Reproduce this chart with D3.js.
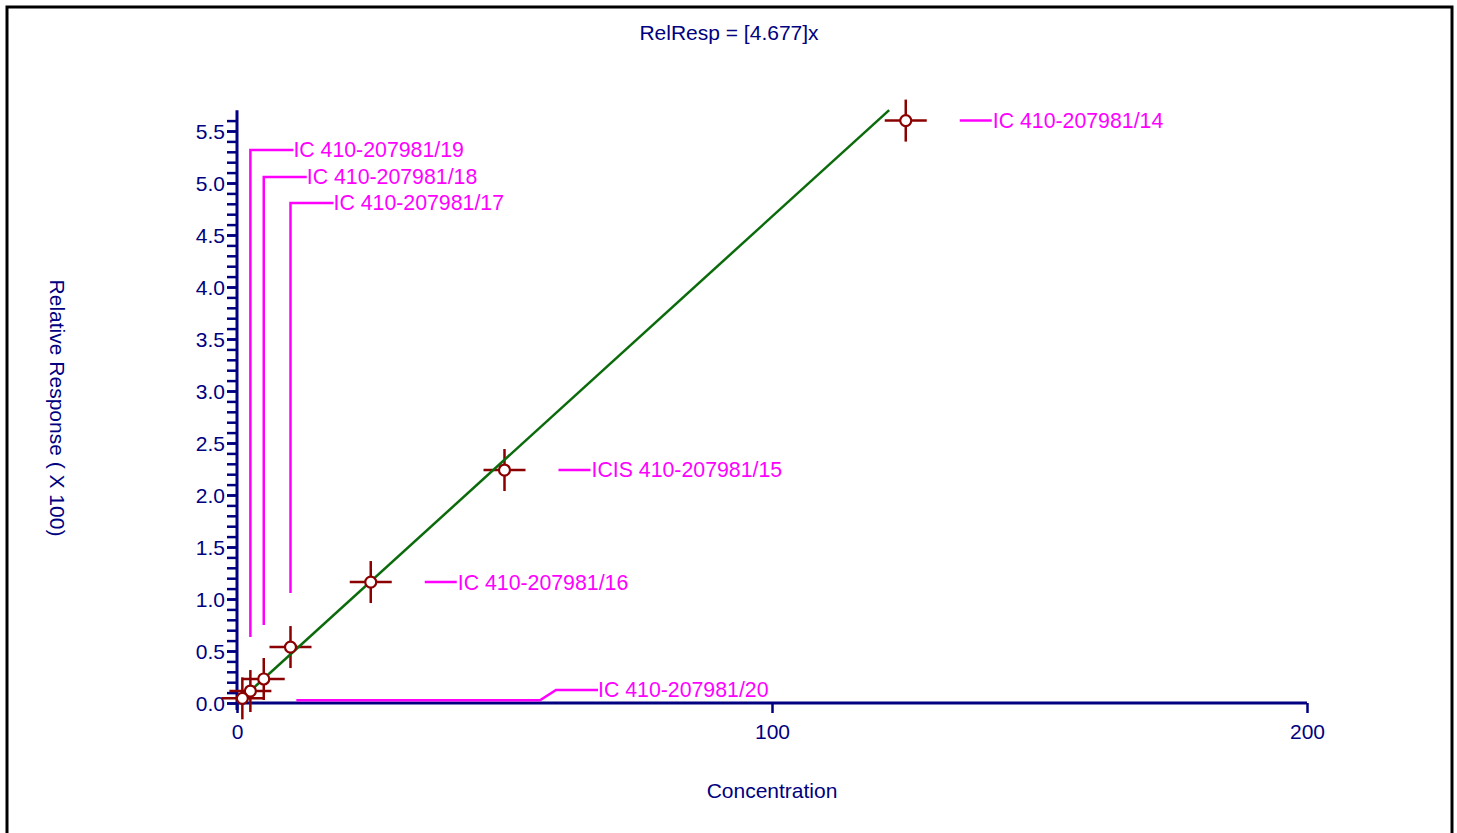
<!DOCTYPE html>
<html>
<head>
<meta charset="utf-8">
<script src="https://cdn.jsdelivr.net/npm/d3@7"></script>
<style>
  body { margin: 0; background: #fff; }
  svg { display: block; font-family: "Liberation Sans", Arial, sans-serif; }
</style>
</head>
<body>
<div id="chart"></div>
<script>
// calibration points
var sampleNames = ["IC 410-207981/14", "ICIS 410-207981/15", "IC 410-207981/16",
                   "IC 410-207981/17", "IC 410-207981/18", "IC 410-207981/19", "IC 410-207981/20"];
var concentration = [125, 50, 25, 10, 5, 2.5, 1];
var relResponse = [5.6, 2.24, 1.163, 0.538, 0.231, 0.115, 0.045];   // x 100

var slope = 0.04677;          // RelResp = [4.677]x  (axis in x100)
var fitRange = [2.5, 121.9];

var xTicks = [0, 100, 200];
var yTicks = [0, 0.5, 1, 1.5, 2, 2.5, 3, 3.5, 4, 4.5, 5, 5.5];

var W = 1457, H = 833;
var navy = "#000080", red = "#8b0000", green = "#0b6b0b", magenta = "#ff00ff";

// label placement (pixel layout, not data)
var labelLayout = [
  { type: "right" }, { type: "right" }, { type: "right" },
  { type: "up", ty: 203 }, { type: "up", ty: 177 }, { type: "up", ty: 150 },
  { type: "bend", bx: 540, ty: 690, tx: 598 }
];

var svg = d3.select("#chart").append("svg")
    .attr("width", W)
    .attr("height", H);

// frame
svg.append("rect")
    .attr("x", 7).attr("y", 7)
    .attr("width", 1445).attr("height", 900)
    .attr("fill", "none")
    .attr("stroke", "#000")
    .attr("stroke-width", 3);

var x = d3.scaleLinear().domain([0, 200]).range([237, 1307]);
var y = d3.scaleLinear().domain([0, 5.7]).range([703, 703 - 5.7 * 104]);

//////////////// axes ////////////////
var yAxisMinor = svg.append("g")
    .attr("transform", "translate(" + x(0) + ",0)")
    .call(d3.axisLeft(y).tickValues(d3.range(0, 57).map(d => d / 10)).tickSize(10).tickSizeOuter(0).tickFormat(""));

var yAxis = svg.append("g")
    .attr("transform", "translate(" + x(0) + ",0)")
    .call(d3.axisLeft(y).tickValues(yTicks).tickSize(10).tickPadding(2).tickSizeOuter(0).tickFormat(d3.format(".1f")));

var xAxis = svg.append("g")
    .attr("transform", "translate(0," + y(0) + ")")
    .call(d3.axisBottom(x).tickValues(xTicks).tickSize(10).tickPadding(11).tickSizeOuter(0));

[yAxisMinor, yAxis, xAxis].forEach(g => {
  g.select(".domain").remove();
  g.selectAll(".tick line").attr("stroke", navy).attr("stroke-width", 2.5);
  g.selectAll(".tick text")
    .attr("fill", navy)
    .style("font-size", "21px")
    .style("font-family", "Liberation Sans, Arial, sans-serif");
});
yAxis.selectAll(".tick text").attr("dy", "0.35em");

// axis lines
svg.append("line")
    .attr("x1", x(0)).attr("x2", x(0))
    .attr("y1", y(5.7)).attr("y2", y(0) + 7)
    .attr("stroke", navy).attr("stroke-width", 3);
svg.append("line")
    .attr("x1", x(0)).attr("x2", x(200))
    .attr("y1", y(0)).attr("y2", y(0))
    .attr("stroke", navy).attr("stroke-width", 3);

// titles
svg.append("text")
    .attr("x", 729).attr("y", 33).attr("dy", "0.35em")
    .attr("text-anchor", "middle")
    .attr("fill", navy).style("font-size", "21px")
    .text("RelResp = [4.677]x");

svg.append("text")
    .attr("x", 772).attr("y", 791).attr("dy", "0.35em")
    .attr("text-anchor", "middle")
    .attr("fill", navy).style("font-size", "21px")
    .text("Concentration");

svg.append("text")
    .attr("transform", "translate(57,408) rotate(90)")
    .attr("dy", "0.35em")
    .attr("text-anchor", "middle")
    .attr("fill", navy).style("font-size", "21px")
    .text("Relative Response ( X 100)");

//////////////// data ////////////////
var pts = concentration.map((c, i) => ({ px: x(c), py: y(relResponse[i]), name: sampleNames[i], lay: labelLayout[i] }));

// crosshairs
var arm = 21;
var cross = svg.append("g").attr("stroke", red).attr("stroke-width", 2.5);
pts.forEach(p => {
  cross.append("line").attr("x1", p.px - arm).attr("x2", p.px + arm).attr("y1", p.py).attr("y2", p.py);
  cross.append("line").attr("x1", p.px).attr("x2", p.px).attr("y1", p.py - arm).attr("y2", p.py + arm);
});

// fit line
var line = d3.line().x(d => x(d)).y(d => y(slope * d));
svg.append("path")
    .datum(fitRange)
    .attr("d", line)
    .attr("fill", "none")
    .attr("stroke", green)
    .attr("stroke-width", 2.5);

// circles
svg.append("g")
    .selectAll("circle")
    .data(pts)
    .join("circle")
    .attr("cx", d => d.px)
    .attr("cy", d => d.py)
    .attr("r", 5.5)
    .attr("fill", "#fff")
    .attr("stroke", red)
    .attr("stroke-width", 2.2);

// labels with leaders
var lab = svg.append("g");
pts.forEach(p => {
  var L = p.lay, path, tx, ty;
  if (L.type === "right") {
    path = [[p.px + 54, p.py], [p.px + 86, p.py]];
    tx = p.px + 87; ty = p.py;
  } else if (L.type === "up") {
    path = [[p.px, p.py - 54], [p.px, L.ty], [p.px + 43, L.ty]];
    tx = p.px + 43; ty = L.ty;
  } else {
    path = [[p.px + 54, p.py + 2], [L.bx, p.py + 2], [L.bx + 16, L.ty], [L.tx, L.ty]];
    tx = L.tx; ty = L.ty;
  }
  lab.append("path")
      .attr("d", d3.line()(path))
      .attr("fill", "none")
      .attr("stroke", magenta)
      .attr("stroke-width", 2.5);
  lab.append("text")
      .attr("x", tx).attr("y", ty).attr("dy", "0.35em")
      .attr("fill", magenta)
      .style("font-size", "21.3px")
      .text(p.name);
});
</script>
</body>
</html>
